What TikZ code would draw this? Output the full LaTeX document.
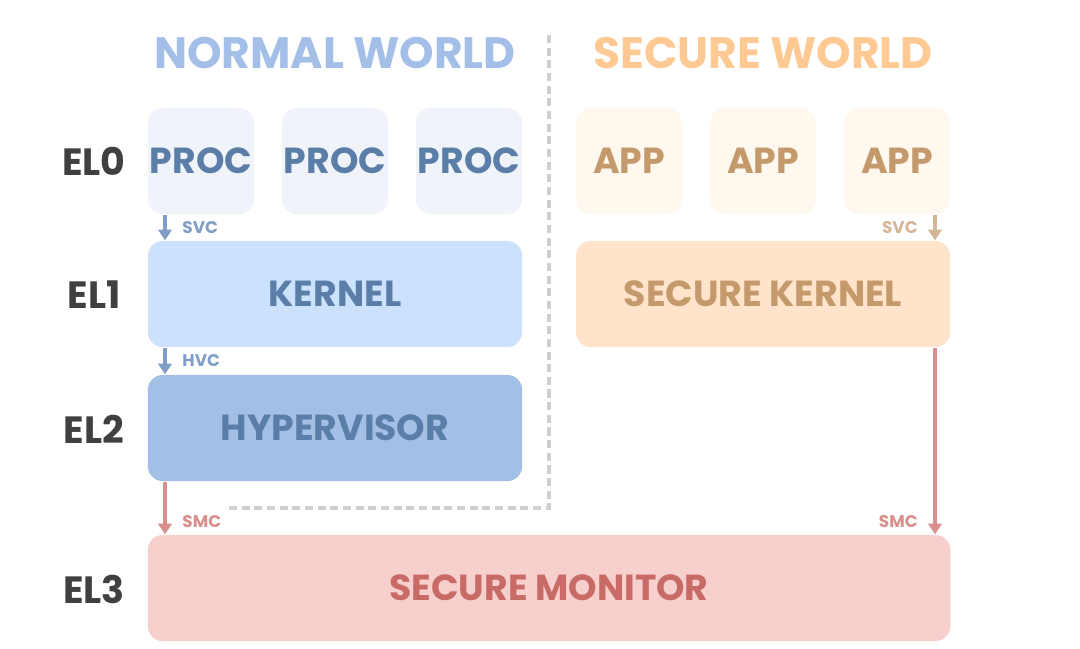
\documentclass[tikz,border=0pt]{standalone}
\usepackage{fontspec}
\setmainfont{Poppins}
\usetikzlibrary{positioning,arrows.meta}

\definecolor{nwtitle}{HTML}{A3BFE8}
\definecolor{swtitle}{HTML}{FFC993}
\definecolor{proctxt}{HTML}{5A7EA8}
\definecolor{procfill}{HTML}{F0F4FA}
\definecolor{appfill}{HTML}{FFF8EE}
\definecolor{apptxt}{HTML}{C49A6C}
\definecolor{kernfill}{HTML}{CCE1FB}
\definecolor{skernfill}{HTML}{FFE4CB}
\definecolor{hypfill}{HTML}{A3BFE6}
\definecolor{monfill}{HTML}{F7CFCD}
\definecolor{montxt}{HTML}{C86A66}
\definecolor{bluearr}{HTML}{7F9EC6}
\definecolor{tanarr}{HTML}{D4B595}
\definecolor{redarr}{HTML}{D9908C}
\definecolor{eltxt}{HTML}{404040}
\definecolor{divider}{HTML}{CFCFCF}

\begin{document}
\begin{tikzpicture}[
  x=0.01cm, y=-0.01cm,
  font=\bfseries,
  title/.style={font=\fontsize{12.5}{14}\selectfont\bfseries, inner sep=0pt},
  lvl/.style={font=\fontsize{10.8}{12}\selectfont\bfseries, text=eltxt, inner sep=0pt},
  box/.style={
    rectangle, rounded corners=4.2pt, minimum height=1.06cm,
    font=\fontsize{10.3}{12}\selectfont\bfseries, inner sep=0pt
  },
  small/.style={rectangle, box, minimum width=1.06cm},
  wide/.style={rectangle, box, minimum width=3.74cm},
  tag/.style={font=\fontsize{4.8}{5.5}\selectfont\bfseries, inner sep=0pt},
  arr/.style={-{Triangle[length=3pt, width=3.8pt]}, line width=0.9pt},
  dash line/.style={draw=divider, line width=1pt, dash pattern=on 2.3pt off 1.3pt}
]
\useasboundingbox (0,0) rectangle (1080,648);

% world titles
\node[title, text=nwtitle] (nwt) at (335,53) {NORMAL WORLD};
\node[title, text=swtitle] (swt) at (763,53) {SECURE WORLD};

% exception levels
\node[lvl] (el0) at (94,161) {EL0};
\node[lvl] (el1) at (94,295) {EL1};
\node[lvl] (el2) at (94,429) {EL2};
\node[lvl] (el3) at (94,589) {EL3};

% EL0
\node[small, fill=procfill, text=proctxt] (p1) at (201,161) {PROC};
\node[small, fill=procfill, text=proctxt] (p2) at (335,161) {PROC};
\node[small, fill=procfill, text=proctxt] (p3) at (469,161) {PROC};
\node[small, fill=appfill, text=apptxt] (a1) at (629,161) {APP};
\node[small, fill=appfill, text=apptxt] (a2) at (763,161) {APP};
\node[small, fill=appfill, text=apptxt] (a3) at (897,161) {APP};

% EL1 / EL2
\node[wide, fill=kernfill, text=proctxt] (kern) at (335,294) {KERNEL};
\node[wide, fill=skernfill, text=apptxt] (skern) at (763,294) {SECURE KERNEL};
\node[wide, fill=hypfill, text=proctxt] (hyp) at (335,428) {HYPERVISOR};

% EL3
\node[box, minimum width=8.02cm, fill=monfill, text=montxt] (mon) at (549,588) {SECURE MONITOR};

% divider between the worlds
\coordinate (dtop) at (549,35);
\coordinate (dcorner) at (549,508);
\coordinate (dleft) at (228,508);
\draw[dash line] (dtop) -- (dcorner) -- (dleft);

% calls
\coordinate (lx) at (165,0);
\coordinate (rx) at (935,0);
\draw[arr, bluearr] (p1.south -| lx) -- (kern.north -| lx)
  node[tag, text=bluearr, midway, right=4.5pt] {SVC};
\draw[arr, bluearr] (kern.south -| lx) -- (hyp.north -| lx)
  node[tag, text=bluearr, midway, right=4.5pt] {HVC};
\draw[arr, tanarr] (a3.south -| rx) -- (skern.north -| rx)
  node[tag, text=tanarr, midway, left=4.5pt] {SVC};
\draw[arr, redarr] (hyp.south -| lx) -- (mon.north -| lx)
  node[tag, text=redarr, pos=0.76, right=4.5pt] {SMC};
\draw[arr, redarr] (skern.south -| rx) -- (mon.north -| rx)
  node[tag, text=redarr, pos=0.93, left=4.5pt] {SMC};

\end{tikzpicture}
\end{document}
